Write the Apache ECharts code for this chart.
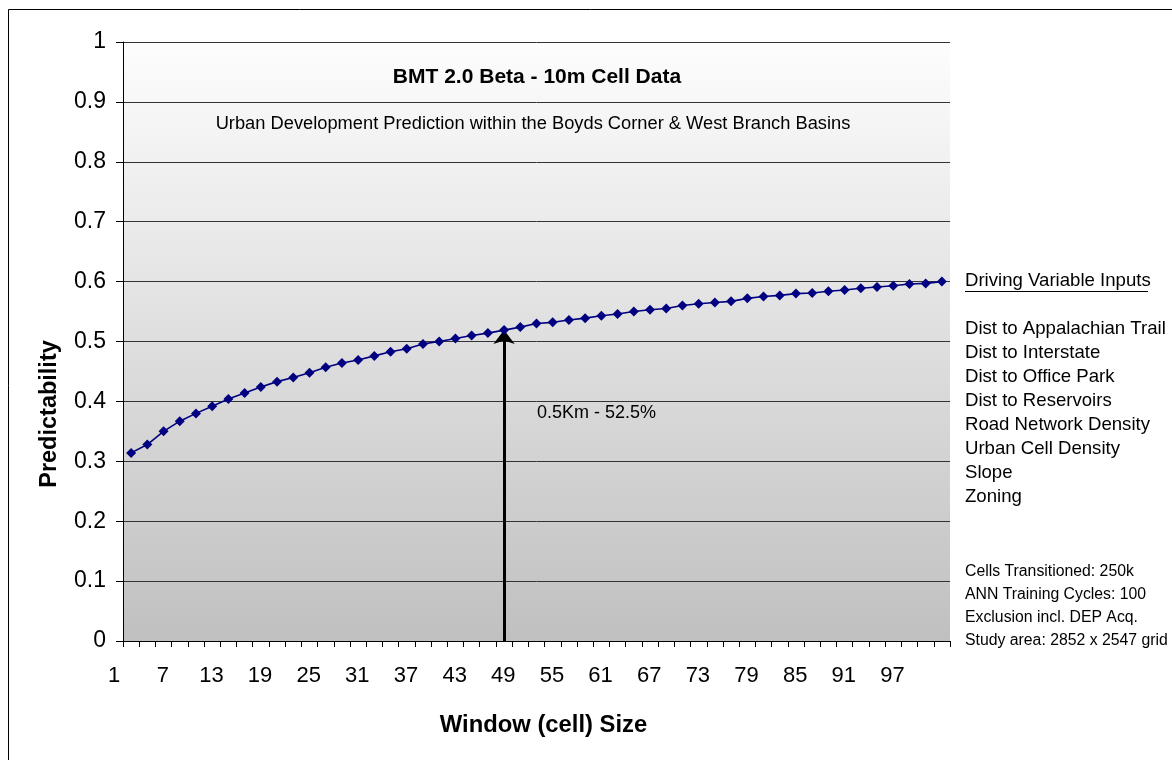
<!DOCTYPE html>
<html>
<head>
<meta charset="UTF-8">
<title>BMT 2.0 Beta - 10m Cell Data</title>
<script src="https://cdn.jsdelivr.net/npm/echarts@6/dist/echarts.min.js"></script>
<style>html, body { margin: 0; padding: 0; background: #fff; }</style>
</head>
<body>
<div id="main" style="width:1172px;height:760px;"></div>
<script>
// window size categories (as labelled on the axis)
var windowLabels = ['1', '3', '5', '7', '9', '11', '13', '15', '17', '19',
    '21', '23', '25', '27', '29', '31', '33', '35', '37', '39',
    '41', '43', '45', '47', '49', '51', '53', '55', '57', '59',
    '61', '63', '65', '67', '69', '71', '73', '75', '77', '79',
    '81', '83', '85', '87', '89', '91', '93', '95', '97', '99', '101'];

// predictability per window size
var predictability = [0.314, 0.328, 0.350, 0.367, 0.380, 0.392, 0.404, 0.414, 0.424, 0.433,
    0.440, 0.448, 0.457, 0.464, 0.469, 0.476, 0.483, 0.488, 0.496, 0.500,
    0.505, 0.510, 0.514, 0.519, 0.524, 0.530, 0.532, 0.536, 0.539, 0.543,
    0.546, 0.550, 0.553, 0.555, 0.560, 0.563, 0.565, 0.567, 0.572, 0.575,
    0.577, 0.580, 0.581, 0.584, 0.586, 0.589, 0.591, 0.593, 0.596, 0.597, 0.600];

var arrowIndex = 23;
var arrowLabel = '0.5Km - 52.5%';

var inputs = ['Dist to Appalachian Trail', 'Dist to Interstate', 'Dist to Office Park',
    'Dist to Reservoirs', 'Road Network Density', 'Urban Cell Density', 'Slope', 'Zoning'];

var notes = ['Cells Transitioned: 250k', 'ANN Training Cycles: 100',
    'Exclusion incl. DEP Acq.', 'Study area: 2852 x 2547 grid'];

var FONT = '"Liberation Sans", Arial, sans-serif';

var myChart = echarts.init(document.getElementById('main'), null, { renderer: 'canvas' });

var graphics = [
    // outer frame (right and bottom edges fall outside the picture)
    { type: 'rect', shape: { x: 8.5, y: 9.5, width: 1180, height: 780 },
      style: { fill: 'none', stroke: '#000', lineWidth: 1 }, z: 0 },
    { type: 'text', x: 537, y: 77, z: 10,
      style: { text: 'BMT 2.0 Beta - 10m Cell Data', font: 'bold 21px ' + FONT, fill: '#000',
               textAlign: 'center', textVerticalAlign: 'middle' } },
    { type: 'text', x: 533, y: 124, z: 10,
      style: { text: 'Urban Development Prediction within the Boyds Corner & West Branch Basins',
               font: '18.3px ' + FONT, fill: '#000', textAlign: 'center', textVerticalAlign: 'middle' } },
    { type: 'text', x: 537, y: 413, z: 10,
      style: { text: arrowLabel, font: '18px ' + FONT, fill: '#000', textVerticalAlign: 'middle' } },
    { type: 'text', x: 50, y: 414, rotation: Math.PI / 2, z: 10,
      style: { text: 'Predictability', font: 'bold 23.5px ' + FONT, fill: '#000',
               textAlign: 'center', textVerticalAlign: 'middle' } },
    { type: 'text', x: 543.5, y: 725, z: 10,
      style: { text: 'Window (cell) Size', font: 'bold 23.8px ' + FONT, fill: '#000',
               textAlign: 'center', textVerticalAlign: 'middle' } },
    { type: 'text', x: 965, y: 281, z: 10,
      style: { text: 'Driving Variable Inputs', font: '18.6px ' + FONT, fill: '#000', textVerticalAlign: 'middle' } },
    { type: 'line', shape: { x1: 965, y1: 291.5, x2: 1148, y2: 291.5 },
      style: { stroke: '#000', lineWidth: 1 }, z: 10 }
];
inputs.forEach(function (t, i) {
    graphics.push({ type: 'text', x: 965, y: 329 + i * 24, z: 10,
        style: { text: t, font: '18.6px ' + FONT, fill: '#000', textVerticalAlign: 'middle' } });
});
notes.forEach(function (t, i) {
    graphics.push({ type: 'text', x: 965, y: 572 + i * 22.8, z: 10,
        style: { text: t, font: '15.8px ' + FONT, fill: '#000', textVerticalAlign: 'middle' } });
});

var option = {
    animation: false,
    backgroundColor: '#fff',
    textStyle: { fontFamily: FONT },
    grid: {
        left: 123, right: 222, top: 42, bottom: 119,
        show: true, borderWidth: 0,
        backgroundColor: new echarts.graphic.LinearGradient(0, 0, 0, 1, [
            { offset: 0, color: '#fdfdfd' },
            { offset: 1, color: '#c0c0c0' }
        ])
    },
    xAxis: {
        type: 'category',
        data: windowLabels,
        boundaryGap: true,
        axisLine: { show: true, lineStyle: { color: '#000', width: 1 } },
        axisTick: { show: true, interval: 0, length: 6, lineStyle: { color: '#000' } },
        axisLabel: {
            interval: 2, margin: 24, fontFamily: FONT, fontSize: 22, color: '#000',
            padding: [0, 34, 0, 0]
        },
        splitLine: { show: false }
    },
    yAxis: {
        type: 'value',
        min: 0, max: 1, interval: 0.1,
        axisLine: { show: true, lineStyle: { color: '#000', width: 1 } },
        axisTick: { show: true, length: 7, lineStyle: { color: '#000' } },
        axisLabel: { margin: 17, fontFamily: FONT, fontSize: 23, color: '#000', padding: [6, 0, 0, 0] },
        splitLine: { show: true, lineStyle: { color: '#333', width: 1 } }
    },
    series: [{
        type: 'line',
        data: predictability,
        symbol: 'diamond',
        symbolSize: 10,
        itemStyle: { color: '#000080' },
        lineStyle: { color: '#000080', width: 1.6 },
        z: 5,
        markLine: {
            silent: true,
            symbol: ['none', 'arrow'],
            symbolSize: [16, 14],
            label: { show: false },
            lineStyle: { color: '#000', width: 3, type: 'solid' },
            data: [[
                { coord: [windowLabels[arrowIndex], 0] },
                { coord: [windowLabels[arrowIndex], predictability[arrowIndex]] }
            ]]
        }
    }],
    graphic: graphics
};

myChart.setOption(option);
</script>
</body>
</html>
